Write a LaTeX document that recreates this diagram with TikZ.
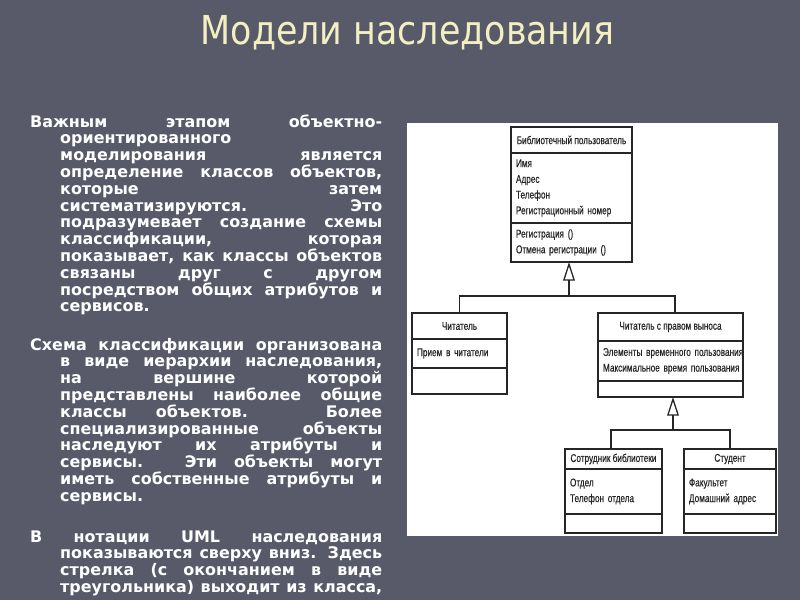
\documentclass[tikz,border=0pt]{standalone}
\usepackage{fontspec}
\setmainfont{DejaVu Sans}
\newfontfamily\titlefont[FakeStretch=0.875]{DejaVu Sans}
\newfontfamily\umlfont[FakeStretch=0.73,FakeBold=0.4]{Liberation Sans}
\usetikzlibrary{arrows.meta,positioning}

\definecolor{slidebg}{HTML}{585A6A}
\definecolor{titleyellow}{HTML}{F2F0C2}
\definecolor{umlink}{HTML}{262626}

\newlength{\px}
\setlength{\px}{0.03cm}
\newcommand{\hangpar}{\noindent\hangindent=30\px\hangafter=1\tolerance=10000\hyphenpenalty=10000\relax}

\tikzset{
  bodytext/.style={anchor=north west, inner sep=0pt, text=white, text width=352\px,
    align=justify, font=\bfseries\fontsize{13.6}{14.34}\selectfont},
  umlpart/.style={draw=umlink, line width=1.1pt, anchor=north west, inner xsep=5\px,
    inner ysep=0pt, outer sep=0pt, text=umlink, font=\umlfont\fontsize{9.6}{13.4}\selectfont},
  umlname/.style={umlpart, align=center},
  umlattr/.style={umlpart, align=left},
  umlline/.style={draw=umlink, line width=1.1pt},
  inherit/.style={umlline, -{Triangle[open, length=16pt, width=10pt]}}
}

\begin{document}
\begin{tikzpicture}[x=1\px, y=-1\px]
  \useasboundingbox (0,0) rectangle (800,600);
  \fill[slidebg] (0,0) rectangle (800,600);

  % title
  \node[font=\titlefont\fontsize{34}{40}\selectfont, text=titleyellow, anchor=base, inner sep=0pt]
    (title) at (407.5,45) {Модели наследования};

  % left column
  \node[bodytext] (para1) at (30,114.3) {\hangpar
    Важным этапом объектно-\linebreak
    ориентированного\newline
    моделирования является\linebreak
    определение классов объектов,\linebreak
    которые затем\linebreak
    систематизируются. Это\linebreak
    подразумевает создание схемы\linebreak
    классификации, которая\linebreak
    показывает, как классы объектов\linebreak
    связаны друг с другом\linebreak
    посредством общих атрибутов и\linebreak
    сервисов.\par};
  \node[bodytext] (para2) at (30,337.8) {\hangpar
    Схема классификации организована\linebreak
    в виде иерархии наследования,\linebreak
    на вершине которой\linebreak
    представлены наиболее общие\linebreak
    классы объектов. Более\linebreak
    специализированные объекты\linebreak
    наследуют их атрибуты и\linebreak
    сервисы. Эти объекты могут\linebreak
    иметь собственные атрибуты и\linebreak
    сервисы.\par};
  \node[bodytext] (para3) at (30,530.3) {\hangpar\parfillskip=0pt
    В нотации UML наследования\linebreak
    показываются сверху вниз. Здесь\linebreak
    стрелка (с окончанием в виде\linebreak
    треугольника) выходит из класса,\par};

  % picture area
  \fill[white] (407,123) rectangle (778,536);

  % Library user
  \node[umlname, minimum width=121\px, minimum height=26\px] (userName) at (511,127) {Библиотечный пользователь};
  \node[umlattr, text width=111\px, minimum height=70\px, below=0pt of userName] (userAttr)
    {Имя\\Адрес\\Телефон\\Регистрационный~номер};
  \node[umlattr, text width=111\px, minimum height=39\px, below=0pt of userAttr] (userOps)
    {Регистрация~()\\Отмена~регистрации~()};

  % Reader
  \node[umlname, minimum width=95\px, minimum height=26\px] (readerName) at (412,313) {Читатель};
  \node[umlattr, text width=85\px, minimum height=29\px, below=0pt of readerName] (readerAttr)
    {Прием~в~читатели};
  \node[umlpart, minimum width=95\px, minimum height=26\px, below=0pt of readerAttr] (readerOps) {};

  % Reader with loan right
  \node[umlname, minimum width=145\px, minimum height=28\px] (loanerName) at (598,313) {Читатель с правом выноса};
  \node[umlattr, text width=135\px, minimum height=40\px, below=0pt of loanerName] (loanerAttr)
    {Элементы~временного~пользования\\Максимальное~время~пользования};
  \node[umlpart, minimum width=145\px, minimum height=16\px, below=0pt of loanerAttr] (loanerOps) {};

  % Library staff
  \node[umlname, minimum width=97\px, minimum height=20\px] (staffName) at (565,449) {Сотрудник библиотеки};
  \node[umlattr, text width=87\px, minimum height=45\px, below=0pt of staffName] (staffAttr)
    {Отдел\\Телефон~отдела};
  \node[umlpart, minimum width=97\px, minimum height=19\px, below=0pt of staffAttr] (staffOps) {};

  % Student
  \node[umlname, minimum width=92\px, minimum height=20\px] (studentName) at (684,449) {Студент};
  \node[umlattr, text width=82\px, minimum height=45\px, below=0pt of studentName] (studentAttr)
    {Факультет\\Домашний~адрес};
  \node[umlpart, minimum width=92\px, minimum height=19\px, below=0pt of studentAttr] (studentOps) {};

  % inheritance, first level
  \coordinate (fork1) at (569,296);
  \coordinate (fork1r) at (675,296);
  \draw[umlline] (readerName.north) |- (fork1r) -- (loanerName.north -| fork1r);
  \draw[inherit] (fork1) -- (fork1 |- userOps.south);

  % inheritance, second level
  \coordinate (fork2) at (673,430);
  \coordinate (fork2l) at (611,430);
  \draw[umlline] (staffName.north -| fork2l) -- (fork2l) -| (studentName.north);
  \draw[inherit] (fork2) -- (fork2 |- loanerOps.south);
\end{tikzpicture}
\end{document}
